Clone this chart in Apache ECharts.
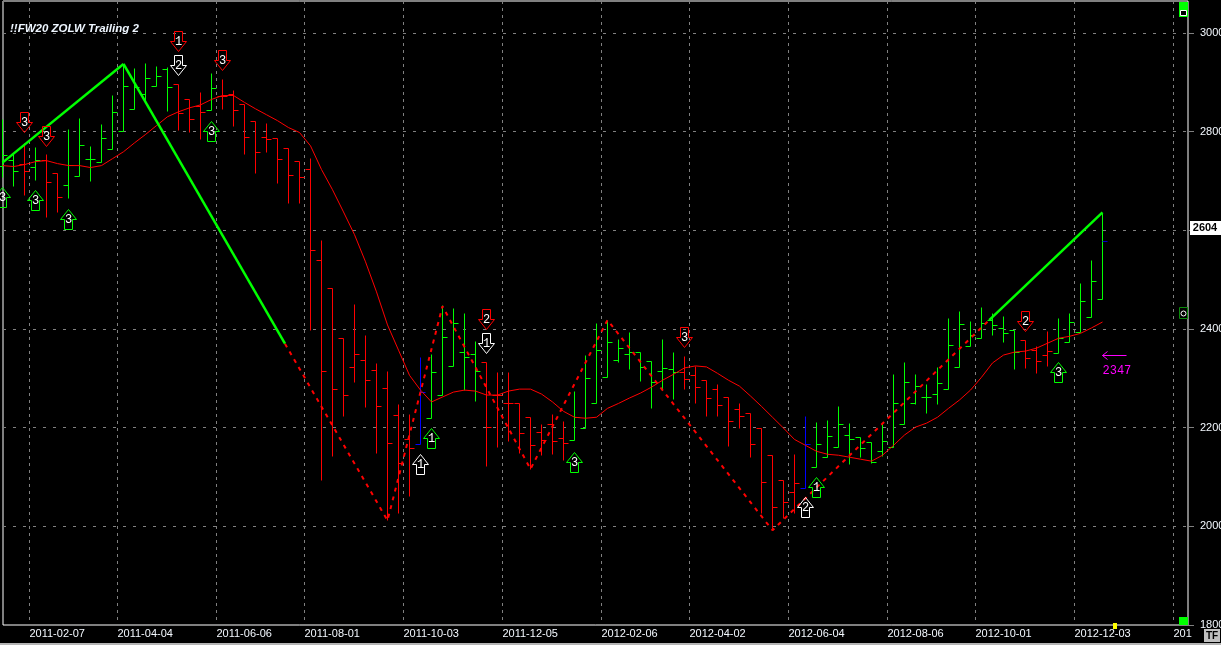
<!DOCTYPE html>
<html>
<head>
<meta charset="utf-8">
<style>
  html, body { margin: 0; padding: 0; background: #000; }
  #chart { width: 1221px; height: 645px; }
</style>
<script src="https://cdn.jsdelivr.net/npm/echarts@6/dist/echarts.min.js"></script>
</head>
<body>
<div id="chart"></div>
<script>
// weekly bars, one entry per bar
const opens = [2729,2741,2733,2727,2741,2716,2692,2710,2743,2737,2763,2800,2846,2875,2891,2927,2895,2865,2852,2842,2871,2875,2856,2820,2789,2787,2765,2739,2723,2540,2483,2380,2323,2337,2317,2280,2225,2177,2166,2219,2266,2325,2353,2349,2333,2266,2249,2249,2221,2191,2207,2178,2174,2199,2249,2302,2337,2349,2353,2335,2315,2319,2312,2306,2296,2278,2262,2237,2229,2199,2144,2093,2069,2077,2120,2140,2160,2185,2181,2170,2152,2160,2207,2249,2262,2268,2278,2323,2365,2381,2418,2402,2398,2376,2357,2347,2351,2373,2394,2424,2461];
const highs = [2824,2753,2777,2769,2753,2716,2804,2826,2771,2814,2873,2936,2928,2938,2932,2930,2895,2865,2879,2919,2905,2883,2856,2820,2816,2787,2765,2739,2745,2580,2483,2380,2449,2388,2331,2315,2248,2227,2343,2349,2447,2441,2431,2374,2333,2312,2312,2249,2221,2207,2227,2213,2274,2347,2412,2418,2378,2394,2353,2335,2378,2353,2345,2325,2296,2288,2262,2249,2229,2199,2144,2093,2146,2223,2211,2215,2243,2209,2181,2170,2209,2308,2333,2308,2288,2323,2422,2436,2416,2444,2432,2426,2398,2376,2365,2396,2422,2432,2493,2540,2635];
const lows = [2708,2690,2670,2702,2627,2637,2664,2710,2700,2737,2763,2800,2846,2861,2891,2840,2802,2798,2785,2842,2846,2810,2753,2716,2757,2696,2655,2655,2398,2094,2141,2223,2292,2241,2148,2012,2026,2061,2166,2219,2266,2325,2276,2254,2122,2160,2172,2148,2116,2144,2146,2134,2174,2199,2249,2302,2333,2319,2294,2239,2276,2258,2278,2249,2223,2223,2162,2199,2140,2026,1992,2016,2026,2077,2120,2140,2160,2125,2140,2128,2142,2160,2207,2247,2229,2247,2278,2323,2365,2381,2388,2373,2319,2321,2310,2325,2351,2373,2394,2424,2461];
const closes = [2751,2719,2719,2741,2698,2666,2731,2773,2743,2787,2838,2891,2889,2907,2911,2889,2836,2824,2838,2887,2871,2842,2789,2757,2785,2743,2712,2708,2560,2315,2278,2265,2349,2296,2243,2168,2128,2159,2272,2312,2383,2412,2343,2315,2201,2266,2249,2188,2164,2174,2172,2168,2221,2300,2357,2373,2361,2353,2323,2292,2321,2312,2298,2282,2260,2245,2213,2223,2166,2089,2038,2048,2087,2166,2166,2182,2207,2176,2158,2130,2172,2249,2292,2284,2262,2290,2367,2410,2388,2412,2408,2392,2353,2341,2335,2355,2381,2414,2455,2497,2578];
const barColorCodes = ['g','g','r','g','r','r','g','g','g','g','g','g','g','g','g','g','r','r','r','g','r','r','r','r','r','r','r','r','r','r','r','r','r','r','r','r','r','r','b','g','g','g','g','g','r','r','r','r','r','r','r','r','g','g','g','g','g','g','g','g','g','g','r','r','r','r','r','r','r','r','r','r','r','b','g','g','g','g','g','g','g','g','g','g','g','g','g','g','g','g','g','g','g','r','r','r','g','g','g','g','g'];
const lastCloseColor = '#0000c8';

// thin red moving average, one point per bar
const movingAvg = [2731,2729,2733,2739,2741,2735,2731,2731,2727,2731,2745,2759,2777,2794,2812,2830,2840,2848,2854,2865,2873,2873,2859,2846,2834,2822,2808,2798,2771,2723,2682,2637,2591,2536,2475,2408,2357,2306,2276,2252,2262,2272,2276,2274,2266,2266,2274,2278,2278,2268,2252,2233,2221,2219,2221,2239,2249,2260,2270,2282,2296,2308,2321,2325,2323,2310,2296,2284,2264,2243,2221,2199,2176,2164,2152,2146,2144,2140,2136,2132,2144,2164,2185,2201,2209,2221,2239,2256,2276,2302,2331,2347,2353,2355,2361,2371,2381,2385,2391,2402,2414];

// zigzag legs: [bar, price]
const greenLegUp = [[0,2737],[11,2937]];
const greenLegDown = [[11,2937],[25.68,2370]];
const dashedLegs = [[25.68,2370],[35,2012],[40,2446],[48,2116],[55,2418],[70,1992],[89.7,2418]];
const greenLegLast = [[89.7,2418],[100,2636]];

// numbered arrows: tip sits at [bar, price]
const signalBars   = [2,4,16,16,20,44,44,62,93,0,3,6,19,38,39,52,73,74,96];
const signalPrices = [2798,2771,2962,2913,2924,2400,2351,2363,2396,2686,2680,2643,2820,2146,2199,2150,2059,2099,2333];
const signalDirs   = ['d','d','d','d','d','d','d','d','d','u','u','u','u','u','u','u','u','u','u'];
const signalColors = ['#ff0000','#ff0000','#ff0000','#ffffff','#ff0000','#ff0000','#ffffff','#ff0000','#ff0000','#00ff00','#00ff00','#00ff00','#00ff00','#ffffff','#00ff00','#00ff00','#ffffff','#00ff00','#00ff00'];
const signalDigits = ['3','3','1','2','3','2','1','3','2','3','3','3','3','1','1','3','2','1','3'];

// axis ticks
const dateTickBars = [2,10,19,27,36,45,54,62,71,80,88,97,106];
const dateTickLabels = ['2011-02-07','2011-04-04','2011-06-06','2011-08-01','2011-10-03','2011-12-05','2012-02-06','2012-04-02','2012-06-04','2012-08-06','2012-10-01','2012-12-03','201'];
const lastPrice = 2604;
const targetBar = 100;
const targetPrice = 2347;

const gridLag = 0.45; // grid lines sit just right of a bar
const dateTicks = dateTickBars.map((b) => b + gridLag);
const snap = (v) => Math.floor(v + 0.2) + 0.5;

const renderBar = (params, api) => {
  const i = api.value(0);
  const x = snap(api.coord([i, 2000])[0]);
  const yOf = (p) => snap(api.coord([i, p])[1]);
  const code = barColorCodes[i];
  const color = code === 'g' ? '#00ff00' : code === 'r' ? '#ff0000' : '#0000ff';
  const seg = (x1, y1, x2, y2, stroke) => ({
    type: 'line',
    shape: { x1, y1, x2, y2 },
    style: { stroke, lineWidth: 1 },
  });
  return {
    type: 'group',
    children: [
      seg(x, yOf(api.value(2)), x, yOf(api.value(3)), color),
      seg(x - 5, yOf(api.value(1)), x, yOf(api.value(1)), color),
      seg(x, yOf(api.value(4)), x + 5, yOf(api.value(4)), i === opens.length - 1 ? lastCloseColor : color),
    ],
  };
};

const renderSignal = (params, api) => {
  const n = params.dataIndex;
  const tip = api.coord([api.value(0), api.value(1)]);
  const x = snap(tip[0]);
  const y = snap(tip[1]);
  const s = signalDirs[n] === 'd' ? -1 : 1;
  const color = signalColors[n];
  return {
    type: 'group',
    children: [
      {
        type: 'polygon',
        shape: {
          points: [[x, y], [x - 8, y + s * 10], [x - 4, y + s * 10], [x - 4, y + s * 20], [x + 4, y + s * 20], [x + 4, y + s * 10], [x + 8, y + s * 10]],
        },
        style: { fill: 'none', stroke: color, lineWidth: 1 },
      },
      {
        type: 'text',
        style: {
          x,
          y: y + s * 10,
          text: signalDigits[n],
          fill: '#fff',
          font: '12px "Liberation Mono"',
          align: 'center',
          verticalAlign: 'middle',
        },
      },
    ],
  };
};

const renderTarget = (params, api) => {
  const p = api.coord([api.value(0), api.value(1)]);
  const x = snap(p[0]);
  const y = snap(p[1]);
  return {
    type: 'group',
    children: [
      { type: 'line', shape: { x1: x, y1: y, x2: x + 24, y2: y }, style: { stroke: '#ff00ff', lineWidth: 1 } },
      { type: 'polyline', shape: { points: [[x + 5, y - 4], [x, y], [x + 5, y + 4]] }, style: { fill: 'none', stroke: '#ff00ff', lineWidth: 1 } },
      {
        type: 'text',
        style: { x, y: y + 9, text: String(api.value(1)), fill: '#ff00ff', font: '12px "Liberation Mono"', align: 'left', verticalAlign: 'top' },
      },
    ],
  };
};

const renderLastTag = (params, api) => {
  const y = api.coord([50, api.value(0)])[1];
  const rect = params.coordSys;
  const left = rect.x + rect.width + 2;
  return {
    type: 'group',
    children: [
      { type: 'rect', shape: { x: left, y: Math.round(y) - 7, width: 31, height: 14 }, style: { fill: '#fff' } },
      {
        type: 'text',
        style: { x: left + 15, y: Math.round(y), text: String(api.value(0)), fill: '#000', font: 'bold 11px "Liberation Sans"', align: 'center', verticalAlign: 'middle' },
      },
    ],
  };
};

const thickGreen = { color: '#00ff00', width: 2.5 };

const chart = echarts.init(document.getElementById('chart'));
chart.setOption({
  animation: false,
  backgroundColor: '#000',
  title: {
    text: '!!FW20 ZOLW Trailing 2',
    left: 10,
    top: 23,
    padding: 0,
    textStyle: { color: '#eef6ff', fontSize: 11.5, fontStyle: 'italic', fontWeight: 'bold', fontFamily: 'Liberation Sans' },
  },
  grid: {
    left: 3,
    right: 33,
    top: 1,
    bottom: 20,
    outerBoundsMode: 'none',
    show: true,
    backgroundColor: '#000',
    borderColor: '#fff',
    borderWidth: 1,
  },
  xAxis: {
    type: 'value',
    min: 0.04545,
    max: 107.7727,
    axisLine: { show: false },
    axisTick: { show: false, customValues: dateTicks },
    axisLabel: {
      customValues: dateTicks,
      formatter: (v) => dateTickLabels[dateTicks.indexOf(v)],
      color: '#f4f9ff',
      fontSize: 11,
      fontFamily: 'Liberation Sans',
      align: 'left',
      margin: 3,
      hideOverlap: false,
    },
    splitLine: { show: true, lineStyle: { color: '#808080', type: [3, 4], width: 1 } },
  },
  yAxis: {
    type: 'value',
    position: 'right',
    min: 1800,
    max: 3064.5,
    interval: 200,
    axisLine: { show: false },
    axisTick: { show: true, length: 6, lineStyle: { color: '#808080' } },
    axisLabel: {
      formatter: (v) => String(v),
      color: '#f4f9ff',
      fontSize: 11,
      fontFamily: 'Liberation Sans',
      margin: 12,
      showMaxLabel: false,
    },
    splitLine: { show: true, lineStyle: { color: '#808080', type: [3, 7], width: 1 } },
  },
  series: [
    {
      type: 'custom',
      name: 'bars',
      renderItem: renderBar,
      encode: { x: 0, y: [1, 2, 3, 4] },
      data: opens.map((o, i) => [i, o, highs[i], lows[i], closes[i]]),
      z: 2,
    },
    {
      type: 'line',
      name: 'average',
      data: movingAvg.map((v, i) => [i, v]),
      symbol: 'none',
      lineStyle: { color: '#ff0000', width: 1 },
      z: 3,
    },
    { type: 'line', data: dashedLegs, symbol: 'none', lineStyle: { color: '#ff0000', width: 2, type: [4, 5] }, z: 3 },
    { type: 'line', data: greenLegUp, symbol: 'none', lineStyle: thickGreen, z: 4 },
    { type: 'line', data: greenLegDown, symbol: 'none', lineStyle: thickGreen, z: 4 },
    { type: 'line', data: greenLegLast, symbol: 'none', lineStyle: thickGreen, z: 4 },
    {
      type: 'custom',
      name: 'signals',
      renderItem: renderSignal,
      encode: { x: 0, y: 1 },
      data: signalBars.map((b, i) => [b, signalPrices[i]]),
      z: 5,
    },
    { type: 'custom', name: 'target', renderItem: renderTarget, encode: { x: 0, y: 1 }, data: [[targetBar, targetPrice]], z: 5 },
    { type: 'custom', name: 'last', renderItem: renderLastTag, encode: { y: 0 }, data: [[lastPrice]], z: 6 },
  ],
  graphic: [
    // window chrome around the plot
    { type: 'rect', shape: { x: 1179, y: 2, width: 9, height: 15 }, style: { fill: '#00ff00' }, z: 10 },
    { type: 'rect', shape: { x: 1180.5, y: 10.5, width: 6, height: 5 }, style: { fill: '#000', stroke: '#fff', lineWidth: 1 }, z: 11 },
    { type: 'rect', shape: { x: 1179, y: 617, width: 9, height: 8 }, style: { fill: '#00ff00' }, z: 10 },
    { type: 'rect', shape: { x: 1179.5, y: 307.5, width: 8, height: 11 }, style: { fill: '#000', stroke: '#0a8a0a', lineWidth: 1 }, z: 10 },
    { type: 'circle', shape: { cx: 1183.5, cy: 313.5, r: 2.5 }, style: { fill: 'none', stroke: '#fff', lineWidth: 1 }, z: 11 },
    { type: 'rect', shape: { x: 1113, y: 623, width: 4, height: 6 }, style: { fill: '#ffff00' }, z: 10 },
    { type: 'rect', shape: { x: 0, y: 643, width: 1221, height: 2 }, style: { fill: '#b4b4b4' }, z: 10 },
    { type: 'rect', shape: { x: 1204, y: 629, width: 16, height: 13 }, style: { fill: '#c0c0c0' }, z: 10 },
    { type: 'text', x: 1206, y: 631, style: { text: 'TF', fill: '#000', font: 'bold 10px "Liberation Sans"' }, z: 11 },
  ],
});
</script>
</body>
</html>
